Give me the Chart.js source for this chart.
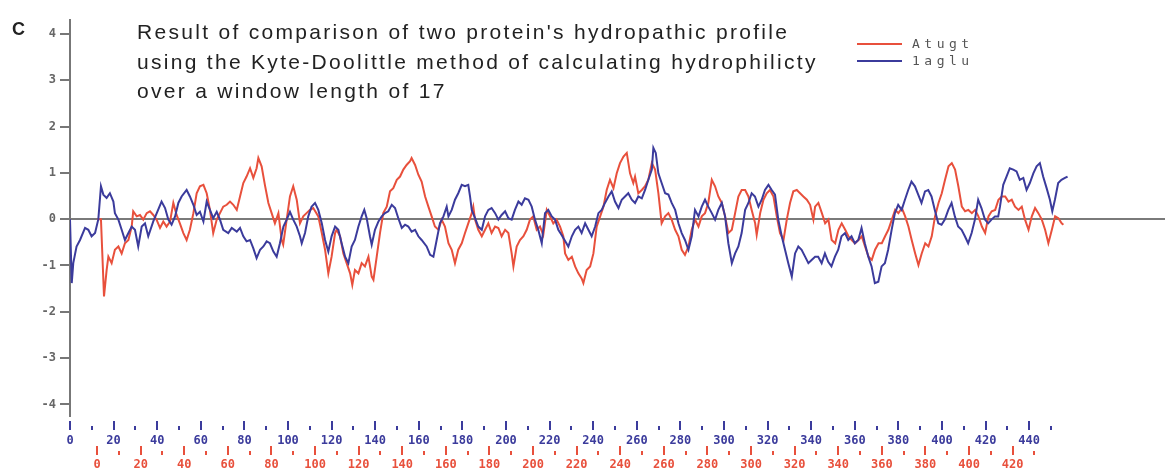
<!DOCTYPE html>
<html>
<head>
<meta charset="utf-8">
<script src="https://cdn.jsdelivr.net/npm/chart.js@4.4.1/dist/chart.umd.min.js"></script>
<style>
    html, body { margin: 0; padding: 0; background: #fff; overflow: hidden; }
    #wrap { position: relative; width: 1165px; height: 468px; overflow: hidden; }
    #chart { position: absolute; left: 0; top: 0; }
    .panel { position: absolute; left: 12px; top: 20px; font: bold 18px "Liberation Sans", Arial, sans-serif; line-height: 18px; color: #222; }
    .title { position: absolute; left: 137px; top: 17px; font: 21px "Liberation Sans", Arial, sans-serif; line-height: 29.5px; letter-spacing: 2.3px; color: #222; white-space: nowrap; }
    .leg-line { position: absolute; left: 857px; width: 45px; height: 2px; }
    .leg-text { position: absolute; left: 912px; font: 13px "DejaVu Sans Mono", monospace; line-height: 16px; letter-spacing: 4.5px; color: #555; }
</style>
</head>
<body>
<div id="wrap">
    <canvas id="chart" width="1165" height="474"></canvas>
    <div class="panel">C</div>
    <div class="title">Result of comparison of two protein's hydropathic profile<br>using the Kyte-Doolittle method of calculating hydrophilicty<br>over a window length of 17</div>
    <div class="leg-line" style="top:43px;background:#e8503c"></div>
    <div class="leg-text" style="top:36px">Atugt</div>
    <div class="leg-line" style="top:60px;background:#3b3b9c"></div>
    <div class="leg-text" style="top:53px">1aglu</div>
</div>
<script>
// Atugt (rouge) - résidus et valeurs
const redRes = [0, 1.8, 3.2, 4.4, 5.2, 6.7, 8.2, 9.8, 11.3, 12.8, 14.4, 15.9, 16.6, 18.2, 19.7, 21.2, 22.8, 24.3, 25.8, 27.3,
    28.9, 30.4, 31.9, 33.5, 35, 36.5, 38, 39.6, 41.1, 42.6, 44.2, 45.7, 47.2, 48.8, 50.3, 51.8, 53.3, 54.9, 56.4, 57.9,
    59.5, 61, 62.5, 64.1, 65.6, 67.1, 68.6, 70.2, 71.7, 73.2, 74, 75.5, 77, 78.6, 80.1, 81.6, 83.2, 84.7, 85.4, 87,
    88.5, 90, 91.6, 93.1, 94.6, 96.1, 97.7, 99.2,
    101.5, 103.1, 104.6, 106.1, 107.6, 109.2, 109.9, 111.5, 113, 114.5, 116.1, 117.1, 118.3, 119.9, 121.4, 122.9, 124.5, 126, 126.8, 128.3,
    129.8, 131.3, 132.9, 134.4, 135.9, 137.5, 139, 140.5, 142, 143.6, 144.3, 145.9, 147.4, 148.9, 150.5, 152, 153.5, 155, 156.6, 158.1,
    159.6, 161.2, 162.7, 164.2, 165.7, 167.3, 168.8, 170.3, 171.9, 172.6, 173.4, 174.9, 176.5, 178, 179.5, 181, 182.6, 184.1, 185.6, 187.2,
    188.7, 190.2, 191, 192.5, 194, 195.6, 197.1, 198.6, 200.1, 201.7, 203.2, 204.7, 206.3, 207.8, 209.3, 210.8, 212.4, 213.9,
    214.7, 216.2, 217.8, 219.3, 220.8, 222.3, 223.1, 224.6, 226.2, 227.7, 229.2, 230.8, 232.3, 233.8, 235.3, 236.9, 238.4, 239.9, 241.5, 243,
    244.5, 246, 246.8, 248.3, 249.9, 251.4, 252.9, 254.5, 256, 257.5, 259, 260.6, 262.1, 263.6, 265.2, 266.7, 268.2, 269.7, 271.3, 272.8,
    274.3, 275.9, 277.4, 278.9, 280.4, 282, 283.5, 285, 286.6, 288.1, 289.6, 291.2, 292.7, 294.2, 295.7, 297.3, 298.8, 300.3, 301.9, 302.6,
    304.2, 305.7, 307.2, 308.7, 310.3, 311.8, 313.3, 314.9, 316.4, 317.9, 319.4, 321, 322.5, 324, 325.6, 327.1, 328.6,
    329.4, 330.9, 332.5, 334, 335.5, 337, 338.6, 340.1, 341.6, 343.2, 344.7, 346.2, 347.7, 349.3, 350.8, 352.3, 353.9, 355.4, 356.9, 358.5,
    360, 361.5, 363, 364.6, 366.1, 367.6, 369.2, 370.7, 372.2, 373.7, 375.3, 376.8, 378.3, 379.9, 381.4, 382.9, 384.4, 386, 387.5, 389,
    390.6, 392.1, 393.6, 395.1, 396.7, 398.2, 399.7, 401.3, 402.8, 404.3, 405.9, 407.4, 408.9, 410.4, 412, 413.5, 415, 416.6, 418.1, 419.6,
    421.1, 422.7, 424.2, 425.7, 427.3, 428.8, 430.3, 431.8, 433.4, 434.9, 436.4, 438, 439.5, 441, 442.5, 443.3];
const redVal = [0, 0, -1.67, -1.10, -0.81, -0.95, -0.66, -0.59, -0.74, -0.52, -0.45, -0.16, 0.17, 0.06, 0.09, -0.01, 0.13, 0.17, 0.09, -0.01,
    -0.19, -0.05, -0.16, -0.05, 0.35, 0.09, -0.09, -0.30, -0.45, -0.23, 0.13, 0.56, 0.71, 0.74, 0.56, 0.20, -0.30, -0.01, 0.13, 0.27,
    0.31, 0.38, 0.31, 0.20, 0.49, 0.78, 0.92, 1.10, 0.89, 1.10, 1.32, 1.14, 0.74, 0.35, 0.13, -0.09, 0.13, -0.45, -0.55, -0.01,
    0.49, 0.71, 0.42, -0.09, 0.06, 0.13, 0.20, 0.24,
    0.06, -0.30, -0.66, -1.17, -0.81, -0.30, -0.23, -0.37, -0.74, -0.95, -1.17, -1.42, -1.10, -1.17, -0.95, -1.02, -0.81, -1.24, -1.31, -0.81,
    -0.30, 0.13, 0.27, 0.60, 0.67, 0.85, 0.92, 1.07, 1.17, 1.25, 1.32, 1.17, 0.96, 0.81, 0.49, 0.27, 0.06, -0.16, -0.23, -0.01,
    -0.16, -0.52, -0.66, -0.95, -0.66, -0.52, -0.30, -0.09, 0.13, 0.27, -0.01, -0.23, -0.37, -0.23, -0.09, -0.30, -0.16, -0.19, -0.37, -0.23,
    -0.30, -0.74, -1.02, -0.59, -0.45, -0.37, -0.23, -0.01, 0.06, -0.23, -0.16, -0.34, 0.20, 0.06, -0.09, -0.01, -0.16, -0.37,
    -0.74, -0.88, -0.81, -1.02, -1.17, -1.28, -1.38, -1.10, -1.02, -0.74, -0.16, 0.06, 0.27, 0.63, 0.85, 0.67, 0.99, 1.21, 1.35, 1.43,
    0.99, 0.78, 0.92, 0.56, 0.63, 0.71, 0.85, 1.21, 1.07, 0.56, -0.09, 0.06, 0.13, -0.01, -0.23, -0.37, -0.66, -0.77, -0.59, -0.23,
    -0.01, -0.16, 0.06, 0.13, 0.35, 0.85, 0.71, 0.49, 0.35, 0.06, -0.30, -0.23, 0.13, 0.49, 0.63, 0.63, 0.49, 0.20, -0.09, -0.34,
    0.13, 0.42, 0.56, 0.63, 0.49, 0.06, -0.30, -0.45, -0.01, 0.35, 0.60, 0.63, 0.56, 0.49, 0.42, 0.31, -0.01,
    0.27, 0.35, 0.13, -0.09, -0.01, -0.45, -0.52, -0.23, -0.09, -0.23, -0.37, -0.45, -0.52, -0.45, -0.37, -0.59, -0.81, -0.88, -0.66, -0.52,
    -0.52, -0.37, -0.23, -0.01, 0.20, 0.13, 0.24, 0.06, -0.16, -0.45, -0.74, -0.99, -0.74, -0.52, -0.59, -0.37, 0.06, 0.35, 0.56, 0.85,
    1.14, 1.21, 1.07, 0.71, 0.27, 0.17, 0.20, 0.13, 0.20, 0.06, -0.16, -0.30, 0.06, 0.17, 0.20, 0.42, 0.49, 0.49, 0.38, 0.42,
    0.27, 0.20, 0.27, -0.01, -0.23, 0.06, 0.24, 0.13, -0.01, -0.23, -0.52, -0.23, 0.06, 0.02, -0.09, -0.12];

// 1aglu (bleu)
const blueRes = [0, 0.8, 1.5, 3, 4.6, 6.9, 8.4, 9.9, 11.5, 13, 14.2, 15.3, 16.8, 18.3, 19.9, 20.6, 22.2, 23.7, 25.2, 26.8,
    28.3, 29.8, 31.3, 32.9, 34.4, 35.9, 38.2, 39.8, 42, 43.6, 45.1, 46.6, 48.2, 49.7, 51.2, 53.5, 55, 56.6, 58.1, 59.6,
    61.2, 62.7, 64.2, 65.7, 67.3, 68.8, 70.3, 72.6, 74.2, 76.5, 78, 79.5, 81, 82.6, 84.1, 85.6, 87.2, 88.7, 90.2, 91.7,
    93.3, 94.8, 96.3, 97.9, 99.4, 100.9, 102.4, 104, 105.5, 106.3, 107.8, 109.3, 110.8, 112.4, 113.9,
    115.5, 117, 118.5, 120, 121.6, 123.1, 124.6, 126.2, 127.7, 129.2, 130.7, 132.3, 133.8, 135, 136.1, 137.6, 138.4, 139.9, 141.5, 143,
    144.5, 146, 147.6, 149.1, 150.6, 152.2, 153.7, 155.2, 156.7, 158.3, 159.8, 161.3, 163.6, 165.2, 166.7, 168.2, 169.7, 171.3, 172.8, 173.6,
    175.1, 176.6, 178.1, 179.7, 181.2, 182.7, 183.5, 184.3, 185.8, 187.3, 188.9, 190.4, 191.9, 193.4, 195, 196.5, 198, 199.6, 201.1, 202.6,
    204.1, 205.7, 207.2, 208.7, 210.3, 211.8, 213.3, 214.8, 216.4, 217.9, 219.4, 221, 222.5, 224, 225.5,
    228.6, 230.2, 231.7, 233.2, 234.7, 236.3, 237.8, 239.3, 240.9, 242.4, 243.9, 245.4, 247, 248.5, 250, 251.6, 253.1, 254.6, 256.1, 257.7,
    259.2, 260.7, 262.3, 263.8, 265.3, 266.9, 267.6, 268.7, 269.9, 271.4, 273, 274.5, 276, 277.6, 279.1, 280.6, 282.1, 283.7, 285.2, 286.7,
    288.3, 289.8, 291.3, 292.8, 294.4, 295.9, 297.4, 299, 300.5, 302, 303.6, 305.1, 306.6, 308.1, 309.7, 311.2, 312.7, 314.2, 315.8, 317.3,
    318.8, 320.4, 321.9, 323.4, 324.9, 326.5, 328, 329.5, 331.1, 332.6, 334.1, 335.6, 337.2, 338.7, 340.2, 341.8,
    343.2, 344.8, 346.3, 347.8, 349.3, 350.9, 352.4, 353.9, 355.5, 357, 358.5, 360, 361.6, 363.1, 364.6, 366.2, 367.7, 369.2, 370.8, 372.3,
    373.8, 375.3, 376.9, 378.4, 379.9, 381.5, 383, 384.5, 386, 387.6, 389.1, 390.6, 392.2, 393.7, 395.2, 396.7, 398.3, 399.8, 401.3, 402.9,
    404.4, 405.9, 407.4, 409, 410.5, 412, 413.6, 415.1, 416.6, 418.1, 419.7, 421.2, 422.7, 424.3, 425.8, 426.6, 428.1, 429.6, 431.1, 432.7,
    434.2, 435.7, 437.3, 438.8, 440.3, 441.9, 443.4, 444.9, 446.4, 448, 449.5, 450.6, 451.8, 453.3, 454.8, 456.4, 457.6];
const blueVal = [0, -1.38, -0.95, -0.59, -0.45, -0.19, -0.23, -0.37, -0.30, 0, 0.71, 0.53, 0.46, 0.56, 0.38, 0.13, -0.01, -0.23, -0.45, -0.30,
    -0.16, -0.23, -0.59, -0.16, -0.09, -0.37, -0.05, 0.13, 0.38, 0.24, -0.01, -0.12, 0.06, 0.35, 0.49, 0.63, 0.49, 0.31, 0.09, 0.16,
    -0.05, 0.38, 0.20, 0.02, 0.16, -0.01, -0.23, -0.30, -0.19, -0.27, -0.19, -0.37, -0.48, -0.45, -0.63, -0.84, -0.66, -0.59, -0.48, -0.52,
    -0.70, -0.81, -0.52, -0.16, -0.01, 0.16, -0.01, -0.16, -0.37, -0.52, -0.30, 0.06, 0.27, 0.35, 0.20,
    -0.09, -0.45, -0.70, -0.37, -0.16, -0.23, -0.52, -0.81, -0.95, -0.59, -0.45, -0.16, 0.06, 0.20, 0.02, -0.37, -0.55, -0.23, -0.05, 0.06,
    0.13, 0.17, 0.31, 0.24, 0.02, -0.19, -0.12, -0.16, -0.27, -0.23, -0.37, -0.45, -0.59, -0.77, -0.81, -0.45, -0.09, 0.06, 0.27, 0.06,
    0.20, 0.42, 0.56, 0.74, 0.71, 0.74, 0.49, 0.20, 0.02, -0.16, -0.23, 0.06, 0.20, 0.24, 0.13, -0.01, 0.09, 0.17, 0.02, -0.01,
    0.20, 0.38, 0.31, 0.45, 0.42, 0.27, -0.01, -0.23, -0.52, 0.13, 0.20, 0.06, -0.01, -0.23, -0.34,
    -0.59, -0.37, -0.23, -0.16, -0.30, -0.09, -0.23, -0.37, -0.16, 0.13, 0.20, 0.35, 0.49, 0.60, 0.38, 0.24, 0.42, 0.49, 0.56, 0.42,
    0.35, 0.49, 0.45, 0.63, 0.85, 1.07, 1.54, 1.43, 0.99, 0.78, 0.56, 0.53, 0.35, 0.20, -0.09, -0.30, -0.45, -0.66, -0.37, 0.20,
    0.06, 0.27, 0.42, 0.27, 0.13, -0.01, 0.20, 0.35, 0.06, -0.52, -0.95, -0.74, -0.59, -0.30, 0.20, 0.35, 0.56, 0.49, 0.27, 0.42,
    0.63, 0.74, 0.63, 0.53, -0.01, -0.37, -0.66, -0.95, -1.24, -0.74, -0.59, -0.66, -0.81, -0.95, -0.88, -0.81,
    -0.81, -0.95, -0.74, -0.92, -1.02, -0.81, -0.66, -0.37, -0.30, -0.45, -0.37, -0.52, -0.45, -0.19, -0.52, -0.81, -1.02, -1.38, -1.35, -1.02,
    -0.95, -0.66, -0.23, 0.13, 0.31, 0.20, 0.42, 0.63, 0.81, 0.71, 0.53, 0.35, 0.60, 0.63, 0.49, 0.20, -0.09, -0.12, -0.01, 0.20,
    0.35, 0.06, -0.16, -0.23, -0.37, -0.52, -0.30, -0.01, 0.42, 0.24, -0.01, -0.09, -0.01, 0.06, 0.06, 0.27, 0.74, 0.92, 1.10, 1.07,
    1.03, 0.85, 0.89, 0.63, 0.78, 0.99, 1.14, 1.21, 0.92, 0.67, 0.42, 0.17, 0.42, 0.78, 0.85, 0.89, 0.92];

// graduations
const yTicks = [-4, -3, -2, -1, 0, 1, 2, 3, 4];
const blueTicks = [0, 10, 20, 30, 40, 50, 60, 70, 80, 90, 100, 110, 120, 130, 140, 150, 160, 170, 180, 190, 200,
    210, 220, 230, 240, 250, 260, 270, 280, 290, 300, 310, 320, 330, 340, 350, 360, 370, 380, 390, 400, 410, 420, 430, 440, 450];
const redTicks = [0, 10, 20, 30, 40, 50, 60, 70, 80, 90, 100, 110, 120, 130, 140, 150, 160, 170, 180, 190, 200,
    210, 220, 230, 240, 250, 260, 270, 280, 290, 300, 310, 320, 330, 340, 350, 360, 370, 380, 390, 400, 410, 420, 430];

const RED = '#e8503c';
const BLUE = '#3b3b9c';
const tickFont = { family: 'DejaVu Sans Mono', size: 12, weight: 'bold' };

// petits traits des axes x (longs tous les 20, courts tous les 10)
const tickMarks = {
    id: 'tickMarks',
    afterDraw(chart) {
        const c = chart.ctx;
        [['x', BLUE, 5, 10, 14], ['x2', RED, 2, 7, 11]].forEach(([id, col, majTop, minTop, bot]) => {
            const s = chart.scales[id];
            c.save();
            c.strokeStyle = col;
            c.lineWidth = 2;
            s.ticks.forEach(t => {
                const px = Math.round(s.getPixelForValue(t.value));
                const y0 = s.top + (t.value % 20 === 0 ? majTop : minTop);
                c.beginPath();
                c.moveTo(px, y0);
                c.lineTo(px, s.top + bot);
                c.stroke();
            });
            c.restore();
        });
    }
};

function xAxis(min, max, ticks, color, weight, padding, height) {
    return {
        type: 'linear',
        position: 'bottom',
        min: min,
        max: max,
        weight: weight,
        afterBuildTicks: s => { s.ticks = ticks.map(v => ({ value: v })); },
        afterFit: s => { s.height = height; },
        grid: { display: false, drawTicks: false },
        border: { display: false },
        ticks: {
            autoSkip: false,
            maxRotation: 0,
            padding: padding,
            color: color,
            font: tickFont,
            callback: v => (v % 20 === 0 ? String(v) : '')
        }
    };
}

const redPoints = redRes.map((r, i) => ({ x: r, y: redVal[i] }));
const bluePoints = blueRes.map((r, i) => ({ x: r, y: blueVal[i] }));

new Chart(document.getElementById('chart'), {
    type: 'line',
    data: {
        datasets: [
            { label: 'Atugt', data: redPoints, xAxisID: 'x2', borderColor: RED, borderWidth: 2, pointRadius: 0, tension: 0, order: 2 },
            { label: '1aglu', data: bluePoints, xAxisID: 'x', borderColor: BLUE, borderWidth: 2, pointRadius: 0, tension: 0, order: 1 }
        ]
    },
    options: {
        responsive: false,
        animation: false,
        layout: { padding: { top: 20, left: 0, right: 0, bottom: 0 } },
        plugins: { legend: { display: false }, tooltip: { enabled: false } },
        scales: {
            x: xAxis(0, 502.3, blueTicks, BLUE, 0, 18, 28),
            x2: xAxis(-12.4, 489.9, redTicks, RED, 1, 14, 30),
            y: {
                min: -4.25,
                max: 4.3,
                afterBuildTicks: s => { s.ticks = yTicks.map(v => ({ value: v })); },
                afterFit: s => { s.width = 70; },
                grid: {
                    color: c => (c.tick && c.tick.value === 0 ? '#7a7a7a' : 'rgba(0,0,0,0)'),
                    lineWidth: 2,
                    tickColor: '#777',
                    tickWidth: 2,
                    tickLength: 10
                },
                border: { color: '#777', width: 2 },
                ticks: { padding: 4, color: '#666', font: tickFont }
            }
        }
    },
    plugins: [tickMarks]
});
</script>
</body>
</html>
